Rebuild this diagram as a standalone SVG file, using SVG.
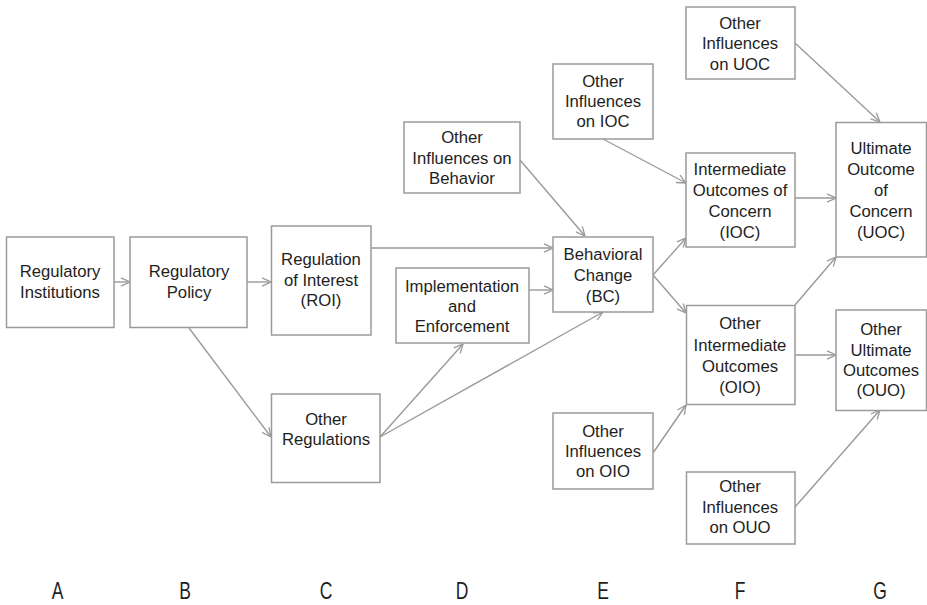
<svg xmlns="http://www.w3.org/2000/svg" width="927" height="605" viewBox="0 0 927 605">
<style>
.box{fill:#fff;stroke:#9a9a9a;stroke-width:1.5}
.t{font-family:"Liberation Sans",Arial,sans-serif;font-size:16.7px;fill:#1e1e1e;text-anchor:middle}
.lbl{font-family:"Liberation Sans",Arial,sans-serif;font-size:23px;fill:#1e1e1e;text-anchor:middle}
.c{fill:none;stroke:#9a9a9a;stroke-width:1.4}
</style>
<defs>
<marker id="ah" viewBox="0 0 10 10" refX="10" refY="5" markerWidth="10" markerHeight="10" markerUnits="userSpaceOnUse" orient="auto">
<path d="M1,0.8 L10,5 L1,9.2" fill="none" stroke="#9a9a9a" stroke-width="1.3"/>
</marker>
</defs>
<rect width="927" height="605" fill="#fff"/>
<g id="connectors" class="c" marker-end="url(#ah)">
<line x1="114" y1="282" x2="130" y2="282"/>
<line x1="247" y1="282" x2="271" y2="282"/>
<line x1="189" y1="328" x2="271" y2="437"/>
<line x1="371" y1="248" x2="553" y2="248"/>
<line x1="529" y1="290" x2="553" y2="290"/>
<line x1="380" y1="437" x2="463" y2="344"/>
<line x1="380" y1="437" x2="603" y2="312"/>
<line x1="520" y1="160" x2="585" y2="236"/>
<line x1="603" y1="139" x2="686" y2="183"/>
<line x1="653" y1="275" x2="686" y2="238"/>
<line x1="653" y1="275" x2="686" y2="313"/>
<line x1="653" y1="453" x2="686" y2="405"/>
<line x1="795" y1="43" x2="880" y2="122"/>
<line x1="795" y1="198" x2="836" y2="198"/>
<line x1="795" y1="305" x2="836" y2="257"/>
<line x1="795" y1="355" x2="836" y2="355"/>
<line x1="795" y1="507" x2="880" y2="410"/>
</g>
<g id="ri"><rect class="box" x="6.5" y="237" width="107.5" height="90.5"/>
<text class="t" x="60" y="277">Regulatory</text><text class="t" x="60" y="297.5">Institutions</text></g>
<g id="rp"><rect class="box" x="130" y="237" width="117" height="90.5"/>
<text class="t" x="189" y="277">Regulatory</text><text class="t" x="189" y="297.5">Policy</text></g>
<g id="roi"><rect class="box" x="271.5" y="226" width="99.5" height="109"/>
<text class="t" x="321" y="265">Regulation</text><text class="t" x="321" y="285.5">of Interest</text><text class="t" x="321" y="306">(ROI)</text></g>
<g id="or"><rect class="box" x="271.5" y="394" width="108.5" height="88.5"/>
<text class="t" x="326" y="425">Other</text><text class="t" x="326" y="445">Regulations</text></g>
<g id="oib"><rect class="box" x="404" y="122" width="116" height="71"/>
<text class="t" x="462" y="143">Other</text><text class="t" x="462" y="163.5">Influences on</text><text class="t" x="462" y="184">Behavior</text></g>
<g id="ie"><rect class="box" x="396" y="268" width="133" height="75"/>
<text class="t" x="462" y="291.5">Implementation</text><text class="t" x="462" y="312">and</text><text class="t" x="462" y="332">Enforcement</text></g>
<g id="bc"><rect class="box" x="553" y="237" width="100" height="75"/>
<text class="t" x="603" y="260">Behavioral</text><text class="t" x="603" y="281">Change</text><text class="t" x="603" y="302">(BC)</text></g>
<g id="oiioc"><rect class="box" x="553" y="64" width="100" height="75"/>
<text class="t" x="603" y="87">Other</text><text class="t" x="603" y="107">Influences</text><text class="t" x="603" y="127">on IOC</text></g>
<g id="oioio"><rect class="box" x="553" y="413" width="100" height="76"/>
<text class="t" x="603" y="437">Other</text><text class="t" x="603" y="457">Influences</text><text class="t" x="603" y="477">on OIO</text></g>
<g id="oiuoc"><rect class="box" x="686" y="7" width="109" height="72"/>
<text class="t" x="740" y="28.5">Other</text><text class="t" x="740" y="49">Influences</text><text class="t" x="740" y="69.5">on UOC</text></g>
<g id="ioc"><rect class="box" x="686" y="153" width="109" height="94"/>
<text class="t" x="740" y="175">Intermediate</text><text class="t" x="740" y="195.5">Outcomes of</text><text class="t" x="740" y="216.5">Concern</text><text class="t" x="740" y="237.5">(IOC)</text></g>
<g id="oio"><rect class="box" x="686.5" y="305.5" width="108.5" height="99"/>
<text class="t" x="740" y="329">Other</text><text class="t" x="740" y="350.5">Intermediate</text><text class="t" x="740" y="371.5">Outcomes</text><text class="t" x="740" y="392.5">(OIO)</text></g>
<g id="oiouo"><rect class="box" x="686.5" y="472" width="108.5" height="72"/>
<text class="t" x="740" y="492">Other</text><text class="t" x="740" y="512.5">Influences</text><text class="t" x="740" y="533">on OUO</text></g>
<g id="uoc"><rect class="box" x="836" y="122.5" width="90.5" height="134.5"/>
<text class="t" x="881" y="154">Ultimate</text><text class="t" x="881" y="175">Outcome</text><text class="t" x="881" y="196">of</text><text class="t" x="881" y="216.5">Concern</text><text class="t" x="881" y="237.5">(UOC)</text></g>
<g id="ouo"><rect class="box" x="836" y="310" width="90.5" height="100.5"/>
<text class="t" x="881" y="335">Other</text><text class="t" x="881" y="356">Ultimate</text><text class="t" x="881" y="376">Outcomes</text><text class="t" x="881" y="396">(OUO)</text></g>
<g id="labels">
<text class="lbl" transform="translate(57.5,599.3) scale(0.76,1)">A</text>
<text class="lbl" transform="translate(185,599.3) scale(0.76,1)">B</text>
<text class="lbl" transform="translate(326,599.3) scale(0.76,1)">C</text>
<text class="lbl" transform="translate(462,599.3) scale(0.76,1)">D</text>
<text class="lbl" transform="translate(603,599.3) scale(0.76,1)">E</text>
<text class="lbl" transform="translate(740,599.3) scale(0.76,1)">F</text>
<text class="lbl" transform="translate(880,599.3) scale(0.76,1)">G</text>
</g>
</svg>
